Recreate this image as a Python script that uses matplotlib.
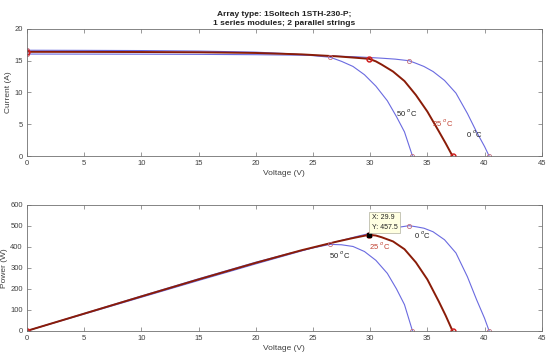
import matplotlib
matplotlib.use('Agg')
import matplotlib.pyplot as plt

# I-V and P-V data (2 parallel strings of 1STH-230-P)
v_0c = [0, 5, 10, 15, 20, 25, 29, 31, 32.2, 33.4, 34.0, 34.7, 35.5, 36.5, 37.5, 38.5, 39.3, 40.0, 40.4]
i_0c = [16.05, 16.04, 16.03, 16.0, 15.95, 15.85, 15.6, 15.4, 15.25, 15.0, 14.6, 14.1, 13.3, 11.9, 9.9, 6.7, 3.8, 1.5, 0]
p_0c = [0, 80, 160, 240, 319, 396, 452, 477, 491, 501, 496, 489, 472, 434, 371, 258, 149, 60, 0]

v_25c = [0, 5, 10, 15, 20, 24, 27, 28.5, 29.9, 30.5, 31, 32, 33, 34, 35, 36, 36.6, 37.2]
i_25c = [16.4, 16.39, 16.37, 16.33, 16.22, 16.0, 15.7, 15.5, 15.3, 14.9, 14.4, 13.3, 11.8, 9.6, 7.0, 3.9, 2.0, 0]
p_25c = [0, 82, 164, 245, 324, 384, 424, 442, 457.5, 454, 446, 426, 389, 326, 245, 140, 73, 0]

v_50c = [0, 5, 10, 15, 20, 23, 25, 26.5, 27.5, 28.5, 29.5, 30.5, 31.5, 32.3, 33.0, 33.7]
i_50c = [16.65, 16.63, 16.6, 16.52, 16.35, 16.1, 15.8, 15.55, 14.9, 14.1, 12.8, 11.0, 8.7, 6.2, 3.8, 0]
p_50c = [0, 83, 166, 248, 327, 370, 395, 412, 410, 402, 378, 336, 274, 200, 125, 0]

# key points: (Voltage, Current, Power) at Isc, MPP, Voc
key_0c = {'v': [0, 33.4, 40.4], 'i': [16.05, 15.0, 0], 'p': [0, 501, 0]}
key_25c = {'v': [0, 29.9, 37.2], 'i': [16.4, 15.3, 0], 'p': [0, 457.5, 0]}
key_50c = {'v': [0, 26.5, 33.7], 'i': [16.65, 15.55, 0], 'p': [0, 412, 0]}

blue = '#6a6ae0'
dark_red = '#8a1c08'
grey = '#404040'

plt.rcParams['font.family'] = ['Liberation Sans', 'DejaVu Sans']
plt.rcParams['font.size'] = 5.5

fig = plt.figure(figsize=(5.5, 3.62), dpi=100)
ax1 = fig.add_axes([0.049, 0.569, 0.936, 0.351])
ax2 = fig.add_axes([0.049, 0.086, 0.936, 0.348])


def style_axes(ax):
    for s in ax.spines.values():
        s.set_color('#707070')
        s.set_linewidth(0.6)
    ax.tick_params(direction='in', length=3, width=0.5, colors='#707070',
                   labelcolor=grey, labelsize=5.5, top=True, right=True, pad=3)
    ax.set_xlim(0, 45)
    ax.set_xticks(range(0, 46, 5))


# current
ax1.plot(v_0c, i_0c, color=blue, lw=0.8)
ax1.plot(v_50c, i_50c, color=blue, lw=0.8)
ax1.plot(v_25c, i_25c, color=dark_red, lw=1.4)
ax1.plot(key_0c['v'], key_0c['i'], 'o', ms=3, mfc='none', mec='#c07080', mew=0.6)
ax1.plot(key_50c['v'], key_50c['i'], 'o', ms=3, mfc='none', mec='#c07080', mew=0.6)
ax1.plot(key_25c['v'], key_25c['i'], 'o', ms=3.5, mfc='none', mec='#d02020', mew=1.1)
ax1.set_ylim(0, 20)
ax1.set_yticks(range(0, 21, 5))
style_axes(ax1)
ax1.set_xlabel('Voltage (V)', color=grey, fontsize=6, labelpad=2)
ax1.set_ylabel('Current (A)', color=grey, fontsize=6, labelpad=2)
ax1.set_title('Array type: 1Soltech 1STH-230-P;\n1 series modules; 2 parallel strings',
              fontsize=6, fontweight='bold', color='#202020', pad=3, linespacing=1.3)
ax1.text(32.3, 6.3, '50 $^{o}$C', fontsize=5.5, color='#202020')
ax1.text(35.4, 4.7, '25 $^{o}$C', fontsize=5.5, color='#c04030')
ax1.text(38.4, 3.0, '0 $^{o}$C', fontsize=5.5, color='#202020')

# power
ax2.plot(v_0c, p_0c, color=blue, lw=0.8)
ax2.plot(v_50c, p_50c, color=blue, lw=0.8)
ax2.plot(v_25c, p_25c, color=dark_red, lw=1.4)
ax2.plot(key_0c['v'], key_0c['p'], 'o', ms=3, mfc='none', mec='#c07080', mew=0.6)
ax2.plot(key_50c['v'], key_50c['p'], 'o', ms=3, mfc='none', mec='#c07080', mew=0.6)
ax2.plot(key_25c['v'], key_25c['p'], 'o', ms=3.5, mfc='none', mec='#d02020', mew=1.1)
ax2.set_ylim(0, 600)
ax2.set_yticks(range(0, 601, 100))
style_axes(ax2)
ax2.set_xlabel('Voltage (V)', color=grey, fontsize=6, labelpad=2)
ax2.set_ylabel('Power (W)', color=grey, fontsize=6, labelpad=2)
ax2.text(33.8, 440, '0 $^{o}$C', fontsize=5.5, color='#202020')
ax2.text(29.9, 390, '25 $^{o}$C', fontsize=5.5, color='#c04030')
ax2.text(26.4, 345, '50 $^{o}$C', fontsize=5.5, color='#202020')

# data tip at the 25 C maximum power point
mpp_v, mpp_p = key_25c['v'][1], key_25c['p'][1]
ax2.plot([mpp_v], [mpp_p], 's', ms=3.5, color='black')
ax2.annotate(f'X: {mpp_v}\nY: {mpp_p}', xy=(mpp_v, mpp_p), xytext=(2, 3),
             textcoords='offset points', ha='left', va='bottom', fontsize=5,
             color='#202020', linespacing=1.5,
             bbox=dict(boxstyle='square,pad=0.35', fc='#ffffe1', ec='#b0b0a0', lw=0.5))

fig.savefig('out.png', dpi=100)
